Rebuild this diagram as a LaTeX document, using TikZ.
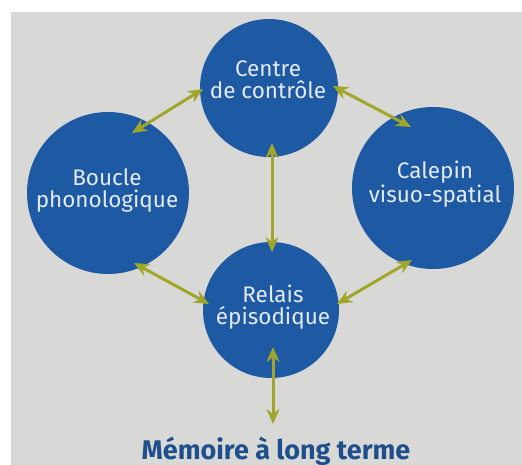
\documentclass[tikz,border=0pt]{standalone}
\usepackage{fontspec}
\setmainfont{Fira Sans}
\usetikzlibrary{arrows.meta}
\definecolor{bg}{HTML}{D8D9D7}
\definecolor{cblue}{HTML}{1D5AA3}
\definecolor{ctxt}{HTML}{E4EAF2}
\definecolor{olive}{HTML}{A0A62A}
\definecolor{ttl}{HTML}{1F4E8C}
\tikzset{
  circ/.style={circle, fill=cblue, inner sep=0pt, minimum size=#1},
  ctext/.style={text=ctxt, align=center, font=\fontsize{22.5}{22}\selectfont, inner sep=0pt},
  link/.style={olive, line width=3pt, {Stealth[length=15pt,width=13pt]}-{Stealth[length=15pt,width=13pt]}}
}
\begin{document}
\begin{tikzpicture}[x=1pt,y=-1pt]
\useasboundingbox (0,0) rectangle (522,465);
\fill[white] (0,0) rectangle (522,465);
\fill[bg] (11,12) rectangle (522,465);
% circles
\node[circ=138pt] (centre) at (269,88) {};
\node[circ=162pt] (boucle) at (108,193) {};
\node[circ=162pt] (calepin) at (433,188) {};
\node[circ=136pt] (relais) at (271,310) {};
% texts
\node[ctext] (centreT) at (268,80) {Centre\\de contrôle};
\node[ctext] (boucleT) at (107,190) {Boucle\\phonologique};
\node[ctext] (calepinT) at (435,184) {Calepin\\visuo-spatial};
\node[ctext] (relaisT) at (273,307) {Relais\\épisodique};
\node[text=ttl, font=\bfseries\fontsize{27}{30}\selectfont, anchor=base, inner sep=0pt] (mlt) at (276,459) {Mémoire à long terme};
% arrow endpoints
\coordinate (bc1) at (132,133); \coordinate (bc2) at (203,89);
\coordinate (cc1) at (333,86);  \coordinate (cc2) at (411,127);
\coordinate (cr1) at (272,143); \coordinate (cr2) at (272,252);
\coordinate (br1) at (134,263); \coordinate (br2) at (209,304);
\coordinate (kr1) at (412,260); \coordinate (kr2) at (337,304);
\coordinate (rm1) at (273,347); \coordinate (rm2) at (273,424);
\draw[link] (bc1) -- (bc2);
\draw[link] (cc1) -- (cc2);
\draw[link] (cr1) -- (cr2);
\draw[link] (br1) -- (br2);
\draw[link] (kr1) -- (kr2);
\draw[link] (rm1) -- (rm2);
\end{tikzpicture}
\end{document}
